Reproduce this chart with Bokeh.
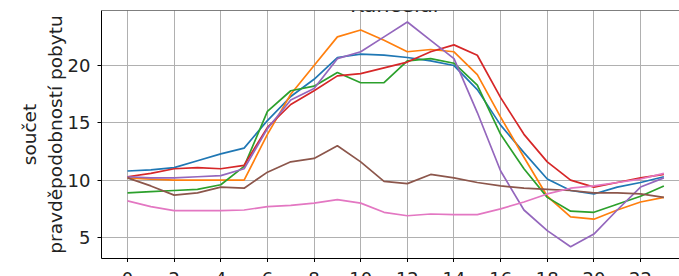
from bokeh.plotting import figure
from bokeh.layouts import column
from bokeh.models import Range1d, FixedTicker, Label, Span
from bokeh.core.properties import value
from bokeh.embed import file_html
from bokeh.resources import INLINE

# ---- data ----
hours = list(range(24))
series_blue = [10.8, 10.9, 11.1, 11.7, 12.3, 12.8, 15.2, 17.3, 18.8, 20.7, 21.0, 20.9,
               20.7, 20.4, 20.0, 17.9, 14.8, 12.4, 10.1, 9.1, 8.8, 9.4, 9.8, 10.3]
series_orange = [10.2, 10.1, 10.0, 10.0, 10.0, 10.0, 14.0, 17.5, 20.0, 22.5, 23.1, 22.2,
                 21.2, 21.4, 21.2, 19.2, 15.5, 12.0, 8.6, 6.8, 6.6, 7.4, 8.1, 8.5]
series_green = [8.9, 9.0, 9.1, 9.2, 9.6, 11.2, 16.0, 17.8, 18.2, 19.4, 18.5, 18.5,
                20.4, 20.6, 20.2, 18.3, 14.0, 11.0, 8.5, 7.3, 7.2, 7.9, 8.6, 9.5]
series_red = [10.3, 10.6, 11.0, 11.1, 11.0, 11.3, 14.6, 16.6, 17.8, 19.1, 19.3, 19.8,
              20.3, 21.2, 21.8, 20.9, 17.2, 14.0, 11.6, 10.0, 9.4, 9.8, 10.2, 10.5]
series_purple = [10.3, 10.2, 10.2, 10.3, 10.4, 11.0, 14.5, 17.0, 18.0, 20.6, 21.2, 22.5,
                 23.8, 22.2, 20.6, 15.9, 10.8, 7.4, 5.6, 4.2, 5.3, 7.4, 9.4, 10.2]
series_brown = [10.2, 9.5, 8.7, 8.9, 9.4, 9.3, 10.7, 11.6, 11.9, 13.0, 11.6, 9.9,
                9.7, 10.5, 10.2, 9.8, 9.5, 9.3, 9.2, 9.1, 8.9, 8.9, 8.8, 8.5]
series_pink = [8.2, 7.7, 7.35, 7.35, 7.35, 7.4, 7.7, 7.8, 8.0, 8.3, 8.0, 7.2,
               6.9, 7.05, 7.0, 7.0, 7.5, 8.1, 8.8, 9.3, 9.5, 9.8, 10.1, 10.6]

series = [series_blue, series_orange, series_green, series_red,
          series_purple, series_brown, series_pink]
colors = ["#1f77b4", "#ff7f0e", "#2ca02c", "#d62728", "#9467bd", "#8c564b", "#e377c2"]

x_ticks = [0, 2, 4, 6, 8, 10, 12, 14, 16, 18, 20, 22]
x_tick_labels = [str(t) for t in x_ticks]
y_ticks = [5, 10, 15, 20]

title_text = "Kancelář"
y_label = "součet\npravděpodobností pobytu"

FONT = "DejaVu Sans"
TXT = "#222222"

X0, X1 = -1.115, 23.67
Y0, Y1 = 3.17, 24.80

# main plot: frame from y=10 to y=258, tick marks below
p = figure(width=679, height=262, output_backend="svg", toolbar_location=None,
           title=None,
           x_range=Range1d(X0, X1), y_range=Range1d(Y0, Y1),
           min_border_left=101, min_border_right=0, min_border_top=10, min_border_bottom=4)
p.background_fill_color = "white"
p.border_fill_color = "white"
p.outline_line_color = None

for s, c in zip(series, colors):
    p.line(hours, s, line_color=c, line_width=1.7)

# grid
p.xgrid.ticker = FixedTicker(ticks=x_ticks)
p.ygrid.ticker = FixedTicker(ticks=y_ticks)
for g in (p.xgrid, p.ygrid):
    g.grid_line_color = "#b0b0b0"
    g.grid_line_width = 1

# x axis: tick marks only; the tick labels sit in the strip below (cut by the window)
xa = p.xaxis[0]
xa.ticker = FixedTicker(ticks=x_ticks)
xa.major_label_overrides = {t: "" for t in x_ticks}
xa.major_label_text_font_size = "0px"
xa.major_label_standoff = 0
xa.major_tick_out = 4
xa.major_tick_in = 0
xa.minor_tick_line_color = None
xa.axis_line_color = "black"
xa.major_tick_line_color = "black"

ya = p.yaxis[0]
ya.ticker = FixedTicker(ticks=y_ticks)
ya.major_label_text_font = FONT
ya.major_label_text_font_size = "18px"
ya.major_label_text_color = TXT
ya.major_tick_out = 4
ya.major_tick_in = 0
ya.minor_tick_line_color = None
ya.axis_line_color = "black"
ya.major_tick_line_color = "black"
ya.major_label_standoff = 7
ya.axis_label = y_label
ya.axis_label_text_font = FONT
ya.axis_label_text_font_size = "18.5px"
ya.axis_label_text_font_style = "normal"
ya.axis_label_text_color = TXT
ya.axis_label_standoff = -1

# top spine
p.add_layout(Span(location=Y1, dimension="width", line_color="black", line_width=1))

# title (mostly above the visible area)
p.add_layout(Label(x=11.5, y=25.30, text=title_text, text_align="center",
                   text_baseline="alphabetic", text_font=FONT, text_font_size="21px",
                   text_color=TXT))

# strip under the plot holding the x tick labels, shares the x scale
p2 = figure(width=679, height=14, output_backend="svg", toolbar_location=None,
            title=None, x_range=p.x_range, y_range=Range1d(0, 14),
            x_axis_type=None, y_axis_type=None,
            min_border_left=101, min_border_right=0, min_border_top=0, min_border_bottom=0)
p2.outline_line_color = None
p2.background_fill_color = "white"
p2.border_fill_color = "white"
p2.text(x=x_ticks, y=4.5, text=x_tick_labels, text_align="center", text_baseline="top",
        text_font=value(FONT), text_font_size=value("18px"), text_color=TXT)

layout = column(p, p2, spacing=0)
open("out.html", "w").write(file_html(layout, INLINE))
